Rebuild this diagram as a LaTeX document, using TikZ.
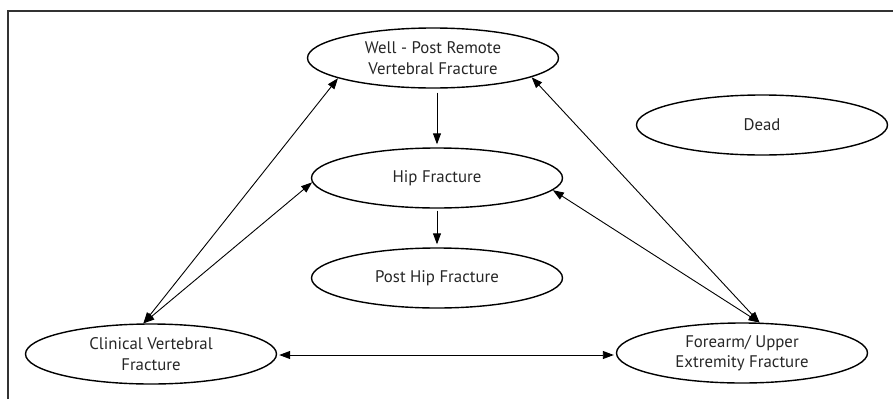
\documentclass[tikz,border=0pt]{standalone}
\usepackage{fontspec}
\setmainfont{PT Sans}
\usetikzlibrary{shapes.geometric,arrows.meta}
\begin{document}
\begin{tikzpicture}[x=1pt,y=-1pt,
  state/.style={draw=black, line width=1.4pt, ellipse, minimum width=251pt, minimum height=60pt, inner sep=0pt, align=center, font=\fontsize{16.8}{20.5}\selectfont, text=black!85},
  link/.style={draw=black, line width=0.9pt},
  tip/.style={-{Triangle[length=11pt,width=8pt]}},
  bitip/.style={{Triangle[length=11pt,width=8pt]}-{Triangle[length=11pt,width=8pt]}}]
\useasboundingbox (0,0) rectangle (893,399);
\draw[line width=2.5pt, black!80] (8,399) -- (8,11) -- (893,11);
\node[state] (well) at (433,58) {Well - Post Remote\\Vertebral Fracture};
\node[state] (hip) at (437,178) {Hip Fracture};
\node[state] (post) at (437,278) {Post Hip Fracture};
\node[state] (dead) at (762,125) {Dead};
\node[state] (clin) at (151,354) {Clinical Vertebral\\Fracture};
\node[state] (fore) at (742,353) {Forearm/ Upper\\Extremity Fracture};
\draw[link,tip,shorten <=4pt,shorten >=3pt] (hip.north |- well.south) -- (hip.north);
\draw[link,tip,shorten <=2pt,shorten >=3pt] (hip.south) -- (post.north);
\draw[link,bitip] (clin.104) -- (well.192);
\draw[link,bitip] (clin.104) -- (hip.182);
\draw[link,bitip] (fore.60) -- (well.349);
\draw[link,bitip] (fore.60) -- (hip.354);
\draw[link,bitip,shorten <=2pt,shorten >=2pt] (clin.east |- 0,355) coordinate (ce) -- (fore.west |- ce);
\end{tikzpicture}
\end{document}
